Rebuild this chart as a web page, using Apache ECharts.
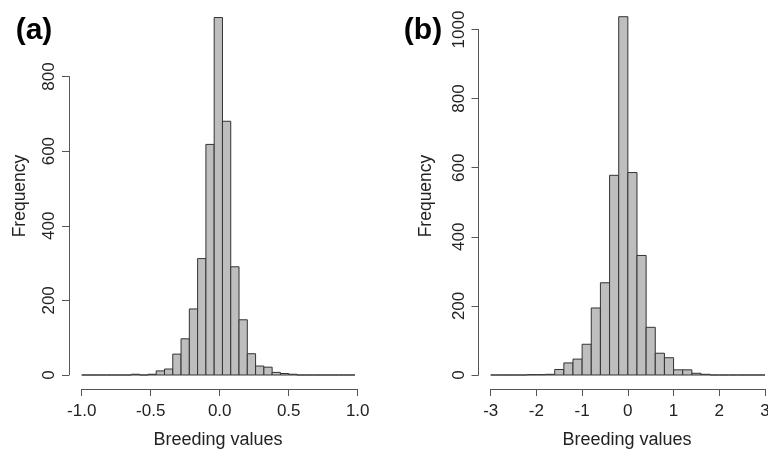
<!DOCTYPE html>
<html>
<head>
<meta charset="utf-8">
<script src="https://cdn.jsdelivr.net/npm/echarts@6/dist/echarts.min.js"></script>
<style>html,body{margin:0;padding:0;background:#fff}#c{width:768px;height:450px}</style>
</head>
<body>
<div id="c"></div>
<script>
// Panel (a): bin edges and counts
const edgesA = [-1.00,-0.94,-0.88,-0.82,-0.76,-0.70,-0.64,-0.58,-0.52,-0.46,-0.40,-0.34,-0.28,-0.22,-0.16,-0.10,-0.04,0.02,0.08,0.14,0.20,0.26,0.32,0.38,0.44,0.50,0.56,0.62,0.68,0.74,0.80,0.86,0.92,0.98];
const countsA = [0,0,0,0,0,0,2,0,2,11,16,56,97,177,312,618,958,680,290,148,57,24,21,7,4,2,0,0,0,0,0,0,0];
// Panel (b): bin edges and counts
const edgesB = [-3.0,-2.8,-2.6,-2.4,-2.2,-2.0,-1.8,-1.6,-1.4,-1.2,-1.0,-0.8,-0.6,-0.4,-0.2,0.0,0.2,0.4,0.6,0.8,1.0,1.2,1.4,1.6,1.8,2.0,2.2,2.4,2.6,2.8,3.0];
const countsB = [0,0,0,0,1,1,2,16,35,46,89,194,267,578,1037,586,346,138,63,50,15,15,5,2,0,0,0,0,0,0];

const panelLabels = ['(a)', '(b)'];
const xTitle = 'Breeding values';
const yTitle = 'Frequency';

function binData(edges, counts) {
  return counts.map((c, i) => [edges[i], edges[i + 1], c]);
}

function renderBar(params, api) {
  const p0 = api.coord([api.value(0), 0]);
  const p1 = api.coord([api.value(1), api.value(2)]);
  return {
    type: 'rect',
    shape: { x: p0[0], y: p1[1], width: p1[0] - p0[0], height: p0[1] - p1[1] },
    style: { fill: '#bebebe', stroke: '#333333', lineWidth: 1 }
  };
}

const FONT = '"Liberation Sans", Arial, sans-serif';
const axisLineStyle = { color: '#555555', width: 1 };
const labelStyle = { color: '#222222', fontSize: 17, fontFamily: FONT };

function xAxisCfg(grid, min, max, interval, fmt) {
  return {
    gridIndex: grid, type: 'value', min: min, max: max, interval: interval, offset: 14,
    axisLine: { show: true, onZero: false, lineStyle: axisLineStyle },
    axisTick: { show: true, length: 7, lineStyle: axisLineStyle },
    axisLabel: Object.assign({ margin: 13.5, formatter: fmt }, labelStyle),
    splitLine: { show: false }
  };
}
function yAxisCfg(grid, max, offset) {
  return {
    gridIndex: grid, type: 'value', min: 0, max: max, interval: 200, offset: offset,
    axisLine: { show: true, onZero: false, lineStyle: axisLineStyle },
    axisTick: { show: true, length: 7, lineStyle: axisLineStyle },
    axisLabel: Object.assign({ margin: 11, rotate: 90, formatter: v => String(v) }, labelStyle),
    splitLine: { show: false }
  };
}

const chart = echarts.init(document.getElementById('c'), null, { renderer: 'canvas' });
chart.setOption({
  animation: false,
  backgroundColor: '#ffffff',
  grid: [
    { left: 81.7, right: 410.3, top: 76.5, bottom: 75, containLabel: false, outerBoundsMode: 'none' },
    { left: 490.7, right: 3, top: 29.5, bottom: 75, containLabel: false, outerBoundsMode: 'none' }
  ],
  xAxis: [
    xAxisCfg(0, -1, 1, 0.5, v => v.toFixed(1)),
    xAxisCfg(1, -3, 3, 1, v => String(v))
  ],
  yAxis: [
    yAxisCfg(0, 800, 12.7),
    yAxisCfg(1, 1000, 12.2)
  ],
  series: [
    {
      type: 'custom', xAxisIndex: 0, yAxisIndex: 0, clip: false,
      data: binData(edgesA, countsA), encode: { x: [0, 1], y: 2 },
      renderItem: renderBar
    },
    {
      type: 'custom', xAxisIndex: 1, yAxisIndex: 1, clip: false,
      data: binData(edgesB, countsB), encode: { x: [0, 1], y: 2 },
      renderItem: renderBar
    }
  ],
  graphic: [
    { type: 'text', x: 34, y: 31, style: { text: panelLabels[0], font: 'bold 30px ' + FONT, fill: '#000', textAlign: 'center', textVerticalAlign: 'middle' } },
    { type: 'text', x: 423, y: 31, style: { text: panelLabels[1], font: 'bold 30px ' + FONT, fill: '#000', textAlign: 'center', textVerticalAlign: 'middle' } },
    { type: 'text', x: 218, y: 440.5, style: { text: xTitle, font: '18px ' + FONT, fill: '#222', textAlign: 'center', textVerticalAlign: 'middle' } },
    { type: 'text', x: 627, y: 440.5, style: { text: xTitle, font: '18px ' + FONT, fill: '#222', textAlign: 'center', textVerticalAlign: 'middle' } },
    { type: 'text', x: 20, y: 196, rotation: Math.PI / 2, style: { text: yTitle, font: '17.5px ' + FONT, fill: '#222', textAlign: 'center', textVerticalAlign: 'middle' } },
    { type: 'text', x: 426, y: 196, rotation: Math.PI / 2, style: { text: yTitle, font: '17.5px ' + FONT, fill: '#222', textAlign: 'center', textVerticalAlign: 'middle' } }
  ]
});
</script>
</body>
</html>
